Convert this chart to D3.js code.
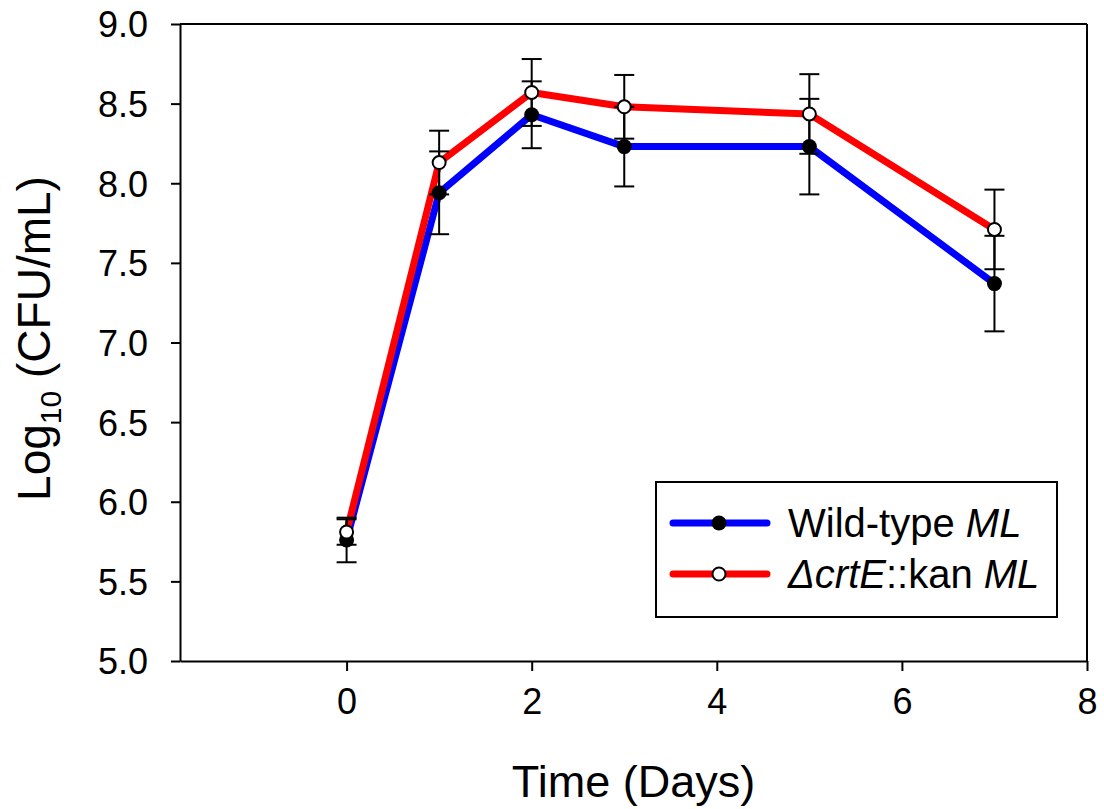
<!DOCTYPE html>
<html>
<head>
<meta charset="utf-8">
<script src="https://cdn.jsdelivr.net/npm/d3@7"></script>
<style>
  body { margin: 0; background: #fff; }
  svg { display: block; font-family: "Liberation Sans", Arial, sans-serif; }
</style>
</head>
<body>
<svg id="chart" width="1104" height="809"></svg>
<script>
// ---- data ----
const days = [0, 1, 2, 3, 5, 7];
const wildType = [5.76, 7.94, 8.43, 8.23, 8.23, 7.37];
const wildTypeErr = [0.14, 0.26, 0.21, 0.25, 0.30, 0.30];
const mutant = [5.81, 8.13, 8.57, 8.48, 8.435, 7.71];
const mutantErr = [0.08, 0.20, 0.21, 0.20, 0.25, 0.25];
const xTicks = [0, 2, 4, 6, 8];
const yTicks = [5.0, 5.5, 6.0, 6.5, 7.0, 7.5, 8.0, 8.5, 9.0];
const seriesNames = ["Wild-type", "\u0394crtE::kan"];

(function () {
const svg = d3.select("#chart");
const pL = 180, pR = 1087, pT = 24, pB = 661;
const x = d3.scaleLinear().domain([-1.8, 8]).range([pL, pR]);
const y = d3.scaleLinear().domain([5, 9]).range([pB, pT]);

// frame (top and right)
svg.append("line").attr("x1", pL).attr("x2", pR).attr("y1", pT).attr("y2", pT)
  .attr("stroke", "#000").attr("stroke-width", 2);
svg.append("line").attr("x1", pR).attr("x2", pR).attr("y1", pT).attr("y2", pB)
  .attr("stroke", "#000").attr("stroke-width", 2);

// axes
const xAxis = svg.append("g").attr("transform", `translate(0,${pB})`)
  .call(d3.axisBottom(x).tickValues(xTicks).tickFormat(d3.format("d")).tickSize(10).tickSizeOuter(0));
const yAxis = svg.append("g").attr("transform", `translate(${pL},0)`)
  .call(d3.axisLeft(y).tickValues(yTicks).tickFormat(d3.format(".1f")).tickSize(9).tickSizeOuter(0));
[xAxis, yAxis].forEach(g => {
  g.select(".domain").attr("stroke", "#000").attr("stroke-width", 2);
  g.selectAll(".tick line").attr("stroke", "#000").attr("stroke-width", 2);
  g.selectAll(".tick text").attr("fill", "#000").style("font-size", "36px")
    .style("font-family", "'Liberation Sans', Arial, sans-serif");
});
xAxis.selectAll(".tick text").attr("y", 53).attr("dy", "0");
yAxis.selectAll(".tick text").attr("x", -32).attr("dy", "0.36em");

// lines
const lineGen = d3.line().x((d, i) => x(days[i])).y(d => y(d));
svg.append("path").datum(wildType).attr("d", lineGen)
  .attr("fill", "none").attr("stroke", "#0000ff").attr("stroke-width", 7).attr("stroke-linejoin", "round");
svg.append("path").datum(mutant).attr("d", lineGen)
  .attr("fill", "none").attr("stroke", "#ff0000").attr("stroke-width", 7).attr("stroke-linejoin", "round");

// error bars
function errorBars(vals, errs) {
  const g = svg.append("g").attr("stroke", "#000").attr("stroke-width", 2);
  vals.forEach((v, i) => {
    const cx = x(days[i]);
    g.append("line").attr("x1", cx).attr("x2", cx).attr("y1", y(v + errs[i])).attr("y2", y(v - errs[i]));
    [v + errs[i], v - errs[i]].forEach(e => {
      g.append("line").attr("x1", cx - 10).attr("x2", cx + 10).attr("y1", y(e)).attr("y2", y(e));
    });
  });
}
errorBars(wildType, wildTypeErr);
errorBars(mutant, mutantErr);

// markers
svg.append("g").selectAll("circle").data(wildType).join("circle")
  .attr("cx", (d, i) => x(days[i])).attr("cy", d => y(d)).attr("r", 7.5)
  .attr("fill", "#000");
svg.append("g").selectAll("circle").data(mutant).join("circle")
  .attr("cx", (d, i) => x(days[i])).attr("cy", d => y(d)).attr("r", 6.5)
  .attr("fill", "#fff").attr("stroke", "#000").attr("stroke-width", 2);

// axis titles
svg.append("text").attr("x", (pL + pR) / 2).attr("y", 797).attr("text-anchor", "middle")
  .style("font-size", "45px").attr("fill", "#000").text("Time (Days)");
const yt = svg.append("text").attr("transform", `translate(50,${(pT + pB) / 2 - 4}) rotate(-90)`)
  .attr("text-anchor", "middle").style("font-size", "46px").attr("fill", "#000");
yt.append("tspan").text("Log");
yt.append("tspan").attr("dy", 11).style("font-size", "30px").text("10");
yt.append("tspan").attr("dy", -11).text(" (CFU/mL)");

// legend
const lg = svg.append("g");
lg.append("rect").attr("x", 656).attr("y", 482).attr("width", 401).attr("height", 135)
  .attr("fill", "#fff").attr("stroke", "#000").attr("stroke-width", 2);
const rows = [
  {y: 523, color: "#0000ff", fill: "#000", r: 7.5},
  {y: 574, color: "#ff0000", fill: "#fff", r: 6.5}
];
rows.forEach((r, i) => {
  lg.append("line").attr("x1", 673).attr("x2", 767).attr("y1", r.y).attr("y2", r.y)
    .attr("stroke", r.color).attr("stroke-width", 7).attr("stroke-linecap", "round");
  lg.append("circle").attr("cx", 719).attr("cy", r.y).attr("r", r.r)
    .attr("fill", r.fill).attr("stroke", "#000").attr("stroke-width", i ? 2 : 0);
  const t = lg.append("text").attr("x", 788).attr("y", r.y).attr("dy", "0.36em")
    .style("font-size", "40px").attr("fill", "#000");
  if (i === 0) {
    t.append("tspan").text(seriesNames[0] + " ");
    t.append("tspan").style("font-style", "italic").text("ML");
  } else {
    t.append("tspan").style("font-style", "italic").text("\u0394crtE");
    t.append("tspan").text("::kan ");
    t.append("tspan").style("font-style", "italic").text("ML");
  }
});
})();
</script>
</body>
</html>
